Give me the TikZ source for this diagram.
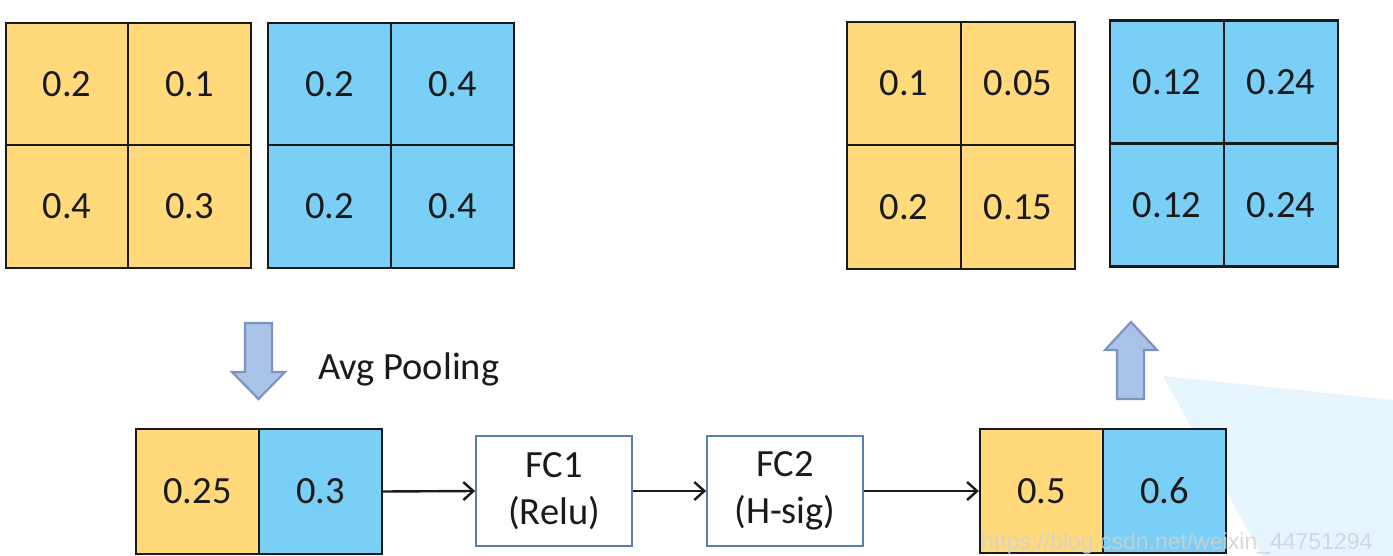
\documentclass[tikz,border=0pt]{standalone}
\usepackage{fontspec}
\setmainfont{Carlito}
\newfontfamily\wmfont{Liberation Sans}
\usetikzlibrary{arrows.meta}
\definecolor{cellY}{HTML}{FFD97A}
\definecolor{cellB}{HTML}{7ACFF7}
\definecolor{arrFill}{HTML}{A9C3E6}
\definecolor{arrDraw}{HTML}{7B93C2}
\definecolor{fcDraw}{HTML}{5B7DB5}
\definecolor{wedge}{HTML}{E6F5FD}
\definecolor{ink}{HTML}{1A1A1A}
\tikzset{
  cell/.style={draw=ink, line width=2.3pt, inner sep=0pt, font=\fontsize{38.5}{44}\selectfont, text=ink},
  ycell/.style={cell, fill=cellY},
  bcell/.style={cell, fill=cellB},
  fcbox/.style={draw=fcDraw, line width=1.8pt, fill=white, minimum width=156pt, minimum height=110pt, inner sep=0pt, align=center, font=\fontsize{38.5}{47}\selectfont, text=ink},
  flow/.style={draw=ink, line width=2.4pt, -{Straight Barb[length=10pt,width=18pt,line width=2.4pt]}},
  blockarrow/.style={fill=arrFill, draw=arrDraw, line width=2.2pt, line join=miter}
}
\begin{document}
\begin{tikzpicture}[x=1pt,y=-1pt]
\path[use as bounding box, fill=white] (0,0) rectangle (1393,556);
% light background wedge
\fill[wedge] (1163,376) -- (1393,400) -- (1393,556) -- (1262,556) -- cycle;

% left input: yellow channel
\node[ycell, minimum width=122.5pt, minimum height=122.5pt] (y11) at (67,84) {0.2};
\node[ycell, minimum width=122.5pt, minimum height=122.5pt] (y12) at (189.5,84) {0.1};
\node[ycell, minimum width=122.5pt, minimum height=122.5pt] (y21) at (67,206.5) {0.4};
\node[ycell, minimum width=122.5pt, minimum height=122.5pt] (y22) at (189.5,206.5) {0.3};
% left input: blue channel
\node[bcell, minimum width=123pt, minimum height=122.5pt] (b11) at (329.5,84) {0.2};
\node[bcell, minimum width=123pt, minimum height=122.5pt] (b12) at (452.5,84) {0.4};
\node[bcell, minimum width=123pt, minimum height=122.5pt] (b21) at (329.5,206.5) {0.2};
\node[bcell, minimum width=123pt, minimum height=122.5pt] (b22) at (452.5,206.5) {0.4};

% right output: yellow channel
\node[ycell, minimum width=114pt, minimum height=123.5pt] (oy11) at (904,83.5) {0.1};
\node[ycell, minimum width=114pt, minimum height=123.5pt] (oy12) at (1018,83.5) {0.05};
\node[ycell, minimum width=114pt, minimum height=123.5pt] (oy21) at (904,207) {0.2};
\node[ycell, minimum width=114pt, minimum height=123.5pt] (oy22) at (1018,207) {0.15};
% right output: blue channel
\node[bcell, minimum width=114pt, minimum height=123pt] (ob11) at (1167,82) {0.12};
\node[bcell, minimum width=114pt, minimum height=123pt] (ob12) at (1281,82) {0.24};
\node[bcell, minimum width=114pt, minimum height=123pt] (ob21) at (1167,205) {0.12};
\node[bcell, minimum width=114pt, minimum height=123pt] (ob22) at (1281,205) {0.24};

% block arrows
\draw[blockarrow] (245,323) -- (272,323) -- (272,372) -- (285,372) -- (258.5,399) -- (232,372) -- (245,372) -- cycle;
\draw[blockarrow] (1117,399) -- (1144,399) -- (1144,350) -- (1157,350) -- (1131,322) -- (1105,350) -- (1117,350) -- cycle;
\node[anchor=west, font=\fontsize{38.5}{44}\selectfont, text=ink, inner sep=0pt] (avg) at (318,369) {Avg Pooling};

% pooled vector
\node[ycell, minimum width=123pt, minimum height=125pt] (p1) at (197.5,491.5) {0.25};
\node[bcell, minimum width=123pt, minimum height=125pt] (p2) at (320.5,491.5) {0.3};

% FC boxes
\node[fcbox] (fc1) at (554,491) {FC1\\(Relu)};
\node[fcbox] (fc2) at (785,491) {FC2\\(H-sig)};

% weights
\node[ycell, minimum width=123pt, minimum height=124pt] (w1) at (1041.5,491) {0.5};
\node[bcell, minimum width=123pt, minimum height=124pt] (w2) at (1164.5,491) {0.6};

% connectors
\draw[flow] (p2.east) -- (fc1.west);
\draw[flow] (fc1.east) -- (fc2.west);
\draw[flow] (fc2.east) -- (w1.west);

% watermark
\node[anchor=base west, inner sep=0pt, font=\wmfont\fontsize{23}{26}\selectfont, text=black!18, opacity=0.85] (wm) at (981,549) {https://blog.csdn.net/weixin\_44751294};
\end{tikzpicture}
\end{document}
